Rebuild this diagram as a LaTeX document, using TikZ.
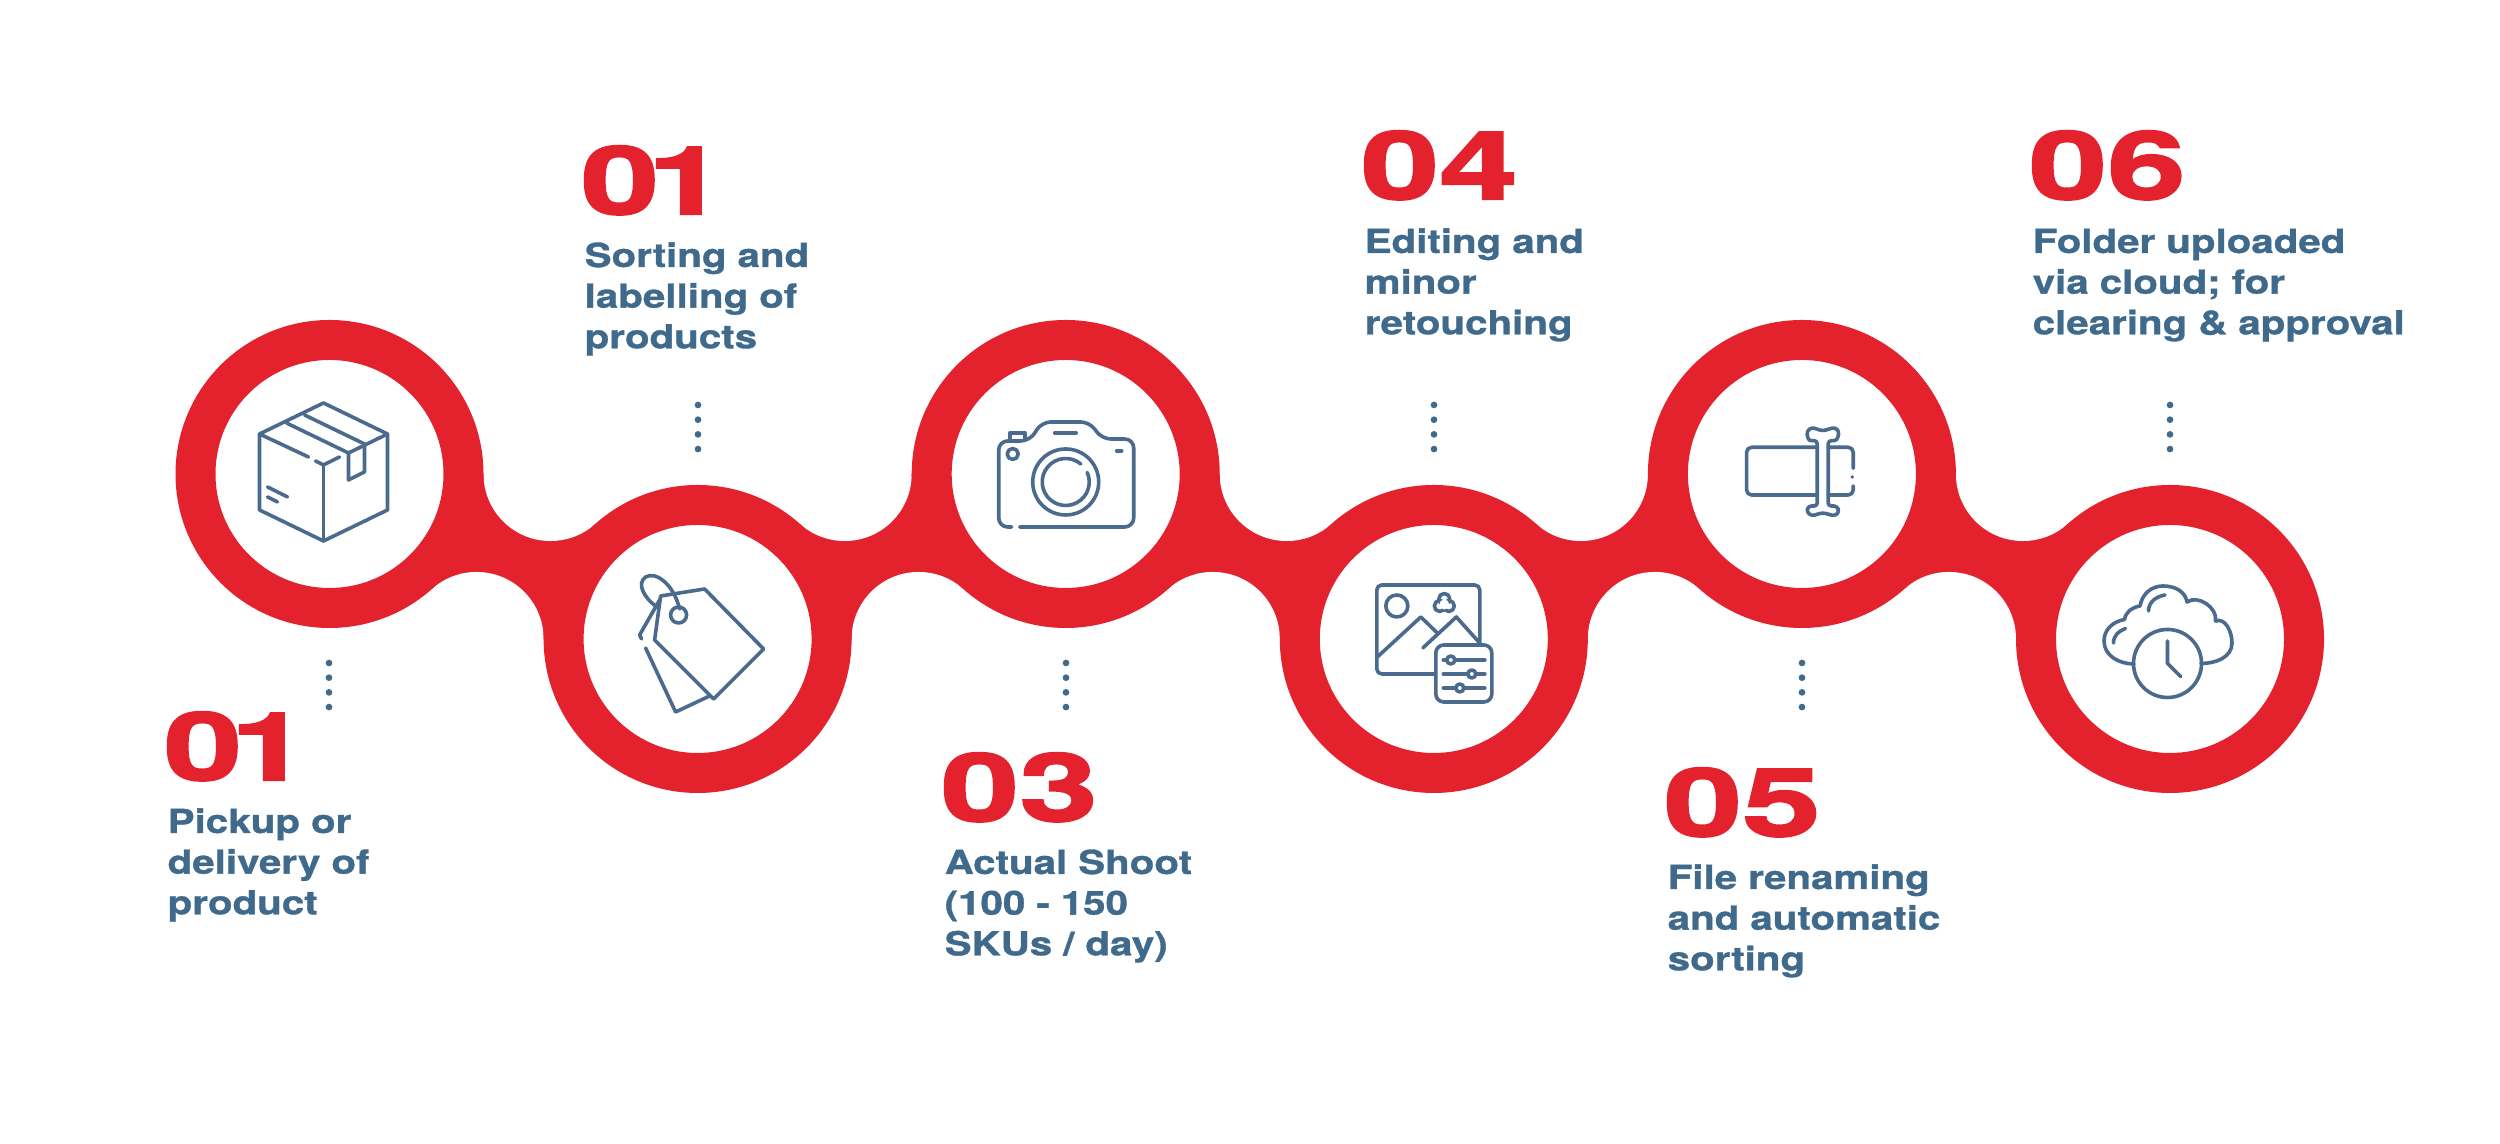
\documentclass[tikz,border=0pt]{standalone}
\usepackage{fontspec}
\usepackage{xcolor}
\usetikzlibrary{positioning}
\newfontfamily\numfont[FakeStretch=1.50,FakeBold=2.2]{TeX Gyre Heros}
\newfontfamily\labelfont[FakeStretch=1.22,FakeBold=1.0]{TeX Gyre Heros}
\definecolor{brandred}{HTML}{E4222E}
\definecolor{labelblue}{HTML}{3F6A8C}
\definecolor{iconblue}{HTML}{4A6A8E}
\tikzset{
  ringnode/.style={circle,draw=brandred,line width=0.4cm,fill=white,minimum size=2.68cm,inner sep=0pt},
  gapnode/.style={circle,fill=white,minimum size=1.3406cm,inner sep=0pt},
  numnode/.style={anchor=base west,inner sep=0pt,text=brandred,font=\numfont\bfseries\fontsize{26.8}{30}\selectfont},
  labelnode/.style={anchor=base west,inner sep=0pt,text=labelblue,text width=5cm,align=left,font=\labelfont\bfseries\fontsize{9.4}{11.57}\selectfont},
  dotline/.style={labelblue,line width=0.067cm,line cap=round,dash pattern=on 0pt off 0.147cm},
  iconline/.style={iconblue,line width=0.036cm,line cap=round,line join=round}
}
\begin{document}
\begin{tikzpicture}
  \useasboundingbox (0,0) rectangle (25,11.44);

  % Band between the rings
  \coordinate (c1) at (3.295,6.70);
  \coordinate (c2) at (6.976,5.05);
  \coordinate (c3) at (10.657,6.70);
  \coordinate (c4) at (14.338,5.05);
  \coordinate (c5) at (18.019,6.70);
  \coordinate (c6) at (21.70,5.05);
  \coordinate (up1) at (5.5053,6.70);
  \coordinate (up2) at (8.4467,6.70);
  \coordinate (up3) at (12.8673,6.70);
  \coordinate (up4) at (15.8087,6.70);
  \coordinate (up5) at (20.2293,6.70);
  \coordinate (lo1) at (4.7657,5.05);
  \coordinate (lo2) at (9.1863,5.05);
  \coordinate (lo3) at (12.1277,5.05);
  \coordinate (lo4) at (16.5483,5.05);
  \coordinate (lo5) at (19.4897,5.05);
  \fill[brandred] (c1) -- (up1) -- (c2) -- (lo1) -- cycle;
  \fill[brandred] (c2) -- (up2) -- (c3) -- (lo2) -- cycle;
  \fill[brandred] (c3) -- (up3) -- (c4) -- (lo3) -- cycle;
  \fill[brandred] (c4) -- (up4) -- (c5) -- (lo4) -- cycle;
  \fill[brandred] (c5) -- (up5) -- (c6) -- (lo5) -- cycle;
  \node[gapnode] (gu1) at (up1) {};
  \node[gapnode] (gu2) at (up2) {};
  \node[gapnode] (gu3) at (up3) {};
  \node[gapnode] (gu4) at (up4) {};
  \node[gapnode] (gu5) at (up5) {};
  \node[gapnode] (gl1) at (lo1) {};
  \node[gapnode] (gl2) at (lo2) {};
  \node[gapnode] (gl3) at (lo3) {};
  \node[gapnode] (gl4) at (lo4) {};
  \node[gapnode] (gl5) at (lo5) {};

  % Rings
  \node[ringnode] (ring1) at (c1) {};
  \node[ringnode] (ring2) at (c2) {};
  \node[ringnode] (ring3) at (c3) {};
  \node[ringnode] (ring4) at (c4) {};
  \node[ringnode] (ring5) at (c5) {};
  \node[ringnode] (ring6) at (c6) {};

  % Dots
  \coordinate (dot1a) at (3.29,4.81);
  \coordinate (dot1b) at (3.29,4.365);
  \coordinate (dot2a) at (6.98,7.39);
  \coordinate (dot2b) at (6.98,6.945);
  \coordinate (dot3a) at (10.66,4.81);
  \coordinate (dot3b) at (10.66,4.365);
  \coordinate (dot4a) at (14.34,7.39);
  \coordinate (dot4b) at (14.34,6.945);
  \coordinate (dot5a) at (18.02,4.81);
  \coordinate (dot5b) at (18.02,4.365);
  \coordinate (dot6a) at (21.70,7.39);
  \coordinate (dot6b) at (21.70,6.945);
  \draw[dotline] (dot1a) -- (dot1b);
  \draw[dotline] (dot2a) -- (dot2b);
  \draw[dotline] (dot3a) -- (dot3b);
  \draw[dotline] (dot4a) -- (dot4b);
  \draw[dotline] (dot5a) -- (dot5b);
  \draw[dotline] (dot6a) -- (dot6b);

  % Numbers and labels
  \node[numnode] (num1) at (1.63,3.64) {0\kern-0.12cm 1};
  \node[labelnode] (lab1) at (1.67,3.11) {Pickup or\\delivery of\\product};
  \node[numnode] (num2) at (5.80,9.30) {0\kern-0.12cm 1};
  \node[labelnode] (lab2) at (5.84,8.77) {Sorting and\\labelling of\\products};
  \node[numnode] (num3) at (9.40,3.23) {03};
  \node[labelnode] (lab3) at (9.44,2.70) {Actual Shoot\\(100 - 150\\SKUs / day)};
  \node[numnode] (num4) at (13.60,9.45) {04};
  \node[labelnode] (lab4) at (13.64,8.91) {Editing and\\minor\\retouching};
  \node[numnode] (num5) at (16.63,3.08) {05};
  \node[labelnode] (lab5) at (16.67,2.55) {File renaming\\and automatic\\sorting};
  \node[numnode] (num6) at (20.28,9.45) {06};
  \node[labelnode] (lab6) at (20.32,8.91) {Folder uploaded\\via cloud; for\\clearing \& approval};

  % Box
  \begin{scope}[shift={(c1)},iconline]
    \draw (-0.70,0.40) -- (-0.70,-0.36) -- (-0.06,-0.67) -- (0.58,-0.36) -- (0.58,0.40) -- (-0.06,0.71) -- cycle;
    \draw (-0.06,0.09) -- (-0.06,-0.67);
    \draw (-0.70,0.40) -- (-0.21,0.17);
    \draw (-0.14,0.13) -- (-0.06,0.09) -- (0.10,0.17);
    \draw (0.58,0.40) -- (0.19,0.21);
    \draw (-0.43,0.51) -- (0.19,0.21) -- (0.19,-0.06) -- (0.35,0.02) -- (0.35,0.30) -- (-0.25,0.59);
    \draw (-0.62,-0.13) -- (-0.42,-0.23);
    \draw (-0.62,-0.23) -- (-0.52,-0.28);
  \end{scope}

  % Tag
  \begin{scope}[shift={(c2)},iconline]
    \draw (-0.37,0.43) -- (0.07,0.50) -- (0.66,-0.10) -- (0.16,-0.60) -- (-0.43,-0.01) -- cycle;
    \draw (-0.19,0.24) circle (0.08);
    \draw (-0.18,0.30) .. controls (-0.24,0.55) and (-0.42,0.68) .. (-0.52,0.62) .. controls (-0.62,0.55) and (-0.52,0.40) .. (-0.42,0.33);
    \draw (-0.38,0.39) -- (-0.58,0.04) -- (-0.56,0);
    \draw (-0.52,-0.09) -- (-0.22,-0.73) -- (0.12,-0.57);
  \end{scope}

  % Camera
  \begin{scope}[shift={(c3)},iconline]
    \draw[rounded corners=0.09cm] (-0.46,-0.53) -- (0.68,-0.53) -- (0.68,0.35) -- (0.36,0.35) -- (0.24,0.52) -- (-0.24,0.52) -- (-0.36,0.33) -- (-0.67,0.33) -- (-0.67,-0.53) -- (-0.54,-0.53);
    \draw (-0.56,0.36) -- (-0.56,0.41) -- (-0.41,0.41) -- (-0.41,0.36);
    \draw (-0.11,0.41) -- (0.105,0.41);
    \draw (-0.53,0.20) circle (0.055);
    \draw (0.51,0.23) -- (0.56,0.23);
    \draw (0,-0.08) circle (0.33);
    \draw ([shift={(50:0.235)}]0,-0.08) arc (50:384:0.235);
  \end{scope}

  % Picture and sliders
  \begin{scope}[shift={(c4)},iconline]
    \draw[rounded corners=0.05cm] (0.01,-0.35) -- (-0.57,-0.35) -- (-0.57,0.54) -- (0.46,0.54) -- (0.46,-0.06);
    \draw (-0.37,0.33) circle (0.11);
    \draw (0.105,0.40) circle (0.055);
    \draw (0.06,0.33) circle (0.055);
    \draw (0.15,0.33) circle (0.055);
    \fill[white] (0.105,0.345) circle (0.05);
    \draw (-0.565,-0.18) -- (-0.13,0.22) -- (0.035,0.06);
    \draw (-0.11,-0.09) -- (0.225,0.22) -- (0.45,-0.03);
    \draw[fill=white,rounded corners=0.08cm] (0.02,-0.06) rectangle (0.58,-0.63);
    \draw (0.095,-0.21) -- (0.51,-0.21);
    \draw (0.095,-0.35) -- (0.51,-0.35);
    \draw (0.095,-0.49) -- (0.51,-0.49);
    \draw[fill=white] (0.17,-0.21) circle (0.04);
    \draw[fill=white] (0.38,-0.35) circle (0.04);
    \draw[fill=white] (0.26,-0.49) circle (0.04);
  \end{scope}

  % Text cursor
  \begin{scope}[shift={(c5)},iconline]
    \draw[rounded corners=0.05cm] (0.153,-0.21) -- (-0.553,-0.21) -- (-0.553,0.267) -- (0.153,0.267);
    \draw[rounded corners=0.05cm] (0.263,0.267) -- (0.513,0.267) -- (0.513,0.057);
    \draw[rounded corners=0.05cm] (0.513,-0.12) -- (0.513,-0.21) -- (0.263,-0.21);
    \fill (0.503,-0.03) circle (0.018);
    \draw[rounded corners=0.03cm] (0.153,0.333) -- (0.065,0.333) -- (0.047,0.423) -- (0.097,0.467) -- (0.207,0.43) -- (0.33,0.467) -- (0.373,0.423) -- (0.35,0.333) -- (0.263,0.333) -- (0.263,-0.32) -- (0.35,-0.32) -- (0.373,-0.377) -- (0.33,-0.42) -- (0.207,-0.387) -- (0.097,-0.42) -- (0.047,-0.377) -- (0.065,-0.32) -- (0.153,-0.32) -- cycle;
  \end{scope}

  % Cloud and clock
  \begin{scope}[shift={(c6)},iconline]
    \draw (-0.025,-0.245) circle (0.34);
    \draw (-0.025,-0.02) -- (-0.025,-0.245) -- (0.105,-0.375);
    \draw (-0.36,-0.25) to[out=180,in=-90] (-0.66,-0.02) to[out=90,in=190] (-0.455,0.195) to[out=80,in=190] (-0.30,0.33) to[out=80,in=180] (-0.07,0.53) to[out=0,in=100] (0.17,0.37) to[out=35,in=80] (0.455,0.18) to[out=20,in=90] (0.62,-0.04) to[out=-90,in=0] (0.31,-0.245);
    \draw (-0.215,0.28) to[out=90,in=190] (-0.05,0.44);
    \draw (-0.565,-0.04) to[out=90,in=200] (-0.445,0.105);
  \end{scope}
\end{tikzpicture}
\end{document}
